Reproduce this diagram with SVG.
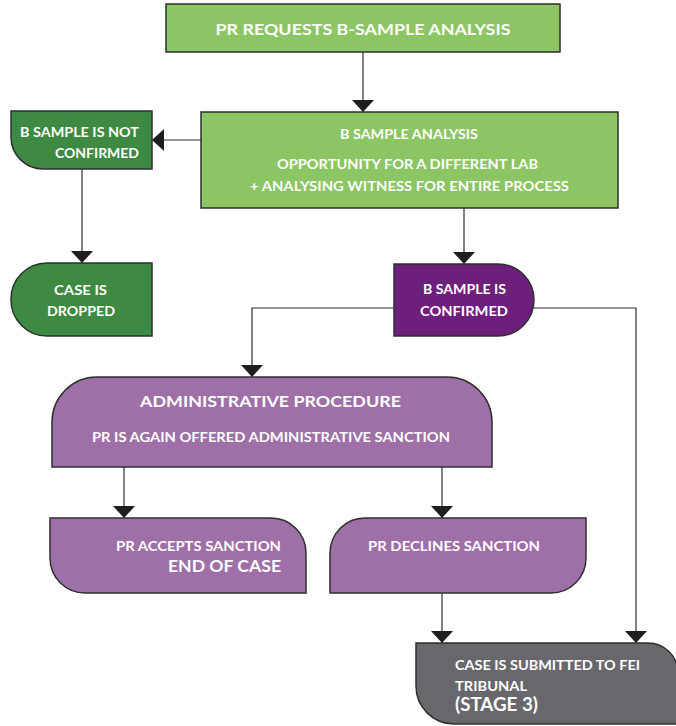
<svg xmlns="http://www.w3.org/2000/svg" width="676" height="726" viewBox="0 0 676 726">
<style>
.box{stroke:#2f2f2f;stroke-width:1.5}
.lg{fill:#8cc563}
.dg{fill:#3e8a43}
.dp{fill:#6c207c}
.lp{fill:#9f70a8}
.gr{fill:#68686c}
text{font-family:Lato,"Open Sans","Liberation Sans",sans-serif;font-weight:bold;fill:#ffffff}
.c{text-anchor:middle}
.r{text-anchor:end}
.conn path{fill:none;stroke:#2f2f2f;stroke-width:1.2}
</style>
<defs>
<marker id="ah" markerUnits="userSpaceOnUse" markerWidth="12" markerHeight="22" refX="12" refY="11" orient="auto" viewBox="0 0 12 22">
<path d="M0,0 L12,11 L0,22 Z" fill="#1e1e1e"/>
</marker>
</defs>
<g class="conn">
<path d="M363,52 V112" marker-end="url(#ah)"/>
<path d="M201,140 H152" marker-end="url(#ah)"/>
<path d="M82,169 V263" marker-end="url(#ah)"/>
<path d="M464,208 V264" marker-end="url(#ah)"/>
<path d="M394,308 H252 V377" marker-end="url(#ah)"/>
<path d="M534,308 H636 V643" marker-end="url(#ah)"/>
<path d="M124,467 V518" marker-end="url(#ah)"/>
<path d="M442,467 V518" marker-end="url(#ah)"/>
<path d="M442,593 V643" marker-end="url(#ah)"/>
</g>
<g id="request">
<rect class="box lg" x="166" y="4" width="394" height="48"/>
<text class="c" x="363" y="35" font-size="16" textLength="295" lengthAdjust="spacingAndGlyphs">PR REQUESTS B-SAMPLE ANALYSIS</text>
</g>
<g id="analysis">
<rect class="box lg" x="201" y="112" width="417" height="96"/>
<text class="c" x="409" y="139" font-size="13.5" textLength="138" lengthAdjust="spacingAndGlyphs">B SAMPLE ANALYSIS</text>
<text class="c" x="407.5" y="169" font-size="13.5" textLength="261" lengthAdjust="spacingAndGlyphs">OPPORTUNITY FOR A DIFFERENT LAB</text>
<text class="c" x="409.5" y="191" font-size="13.5" textLength="319" lengthAdjust="spacingAndGlyphs">+ ANALYSING WITNESS FOR ENTIRE PROCESS</text>
</g>
<g id="not-confirmed">
<path class="box dg" d="M11,111 H152 V169 H43 A32,32 0 0 1 11,137 Z"/>
<text class="r" x="139" y="137" font-size="13.5" textLength="119" lengthAdjust="spacingAndGlyphs">B SAMPLE IS NOT</text>
<text class="r" x="139" y="158" font-size="13.5" textLength="84" lengthAdjust="spacingAndGlyphs">CONFIRMED</text>
</g>
<g id="dropped">
<path class="box dg" d="M152,263 V336 H47 A36,36 0 0 1 11,300 V299 A36,36 0 0 1 47,263 Z"/>
<text class="c" x="80.5" y="295" font-size="13.5" textLength="53" lengthAdjust="spacingAndGlyphs">CASE IS</text>
<text class="c" x="81" y="316" font-size="13.5" textLength="68" lengthAdjust="spacingAndGlyphs">DROPPED</text>
</g>
<g id="confirmed">
<path class="box dp" d="M394,264 H498 A36,36 0 0 1 534,300 A36,36 0 0 1 498,336 H394 Z"/>
<text class="c" x="464.5" y="294" font-size="13.5" textLength="83" lengthAdjust="spacingAndGlyphs">B SAMPLE IS</text>
<text class="c" x="464" y="316" font-size="13.5" textLength="88" lengthAdjust="spacingAndGlyphs">CONFIRMED</text>
</g>
<g id="admin">
<path class="box lp" d="M52,467 V422 A45,45 0 0 1 97,377 H447 A45,45 0 0 1 492,422 V467 Z"/>
<text class="c" x="270.5" y="407" font-size="16" textLength="261" lengthAdjust="spacingAndGlyphs">ADMINISTRATIVE PROCEDURE</text>
<text class="c" x="271" y="442" font-size="13.5" textLength="358" lengthAdjust="spacingAndGlyphs">PR IS AGAIN OFFERED ADMINISTRATIVE SANCTION</text>
</g>
<g id="accepts">
<path class="box lp" d="M50,518 H271 A35,35 0 0 1 306,553 V593 H85 A35,35 0 0 1 50,558 Z"/>
<text class="r" x="281" y="551" font-size="13.5" textLength="165" lengthAdjust="spacingAndGlyphs">PR ACCEPTS SANCTION</text>
<text class="r" x="281" y="572" font-size="17" textLength="113" lengthAdjust="spacingAndGlyphs">END OF CASE</text>
</g>
<g id="declines">
<path class="box lp" d="M330,593 V553 A35,35 0 0 1 365,518 H586 V558 A35,35 0 0 1 551,593 Z"/>
<text x="368" y="551" font-size="13.5" textLength="172" lengthAdjust="spacingAndGlyphs">PR DECLINES SANCTION</text>
</g>
<g id="tribunal">
<path class="box gr" d="M416,643 H648 A30,30 0 0 1 678,673 V724 H454 A38,38 0 0 1 416,686 Z"/>
<text x="455" y="670" font-size="13.5" textLength="185" lengthAdjust="spacingAndGlyphs">CASE IS SUBMITTED TO FEI</text>
<text x="455" y="691" font-size="13.5" textLength="72" lengthAdjust="spacingAndGlyphs">TRIBUNAL</text>
<text x="455" y="711" font-size="18" textLength="83" lengthAdjust="spacingAndGlyphs">(STAGE 3)</text>
</g>
</svg>
